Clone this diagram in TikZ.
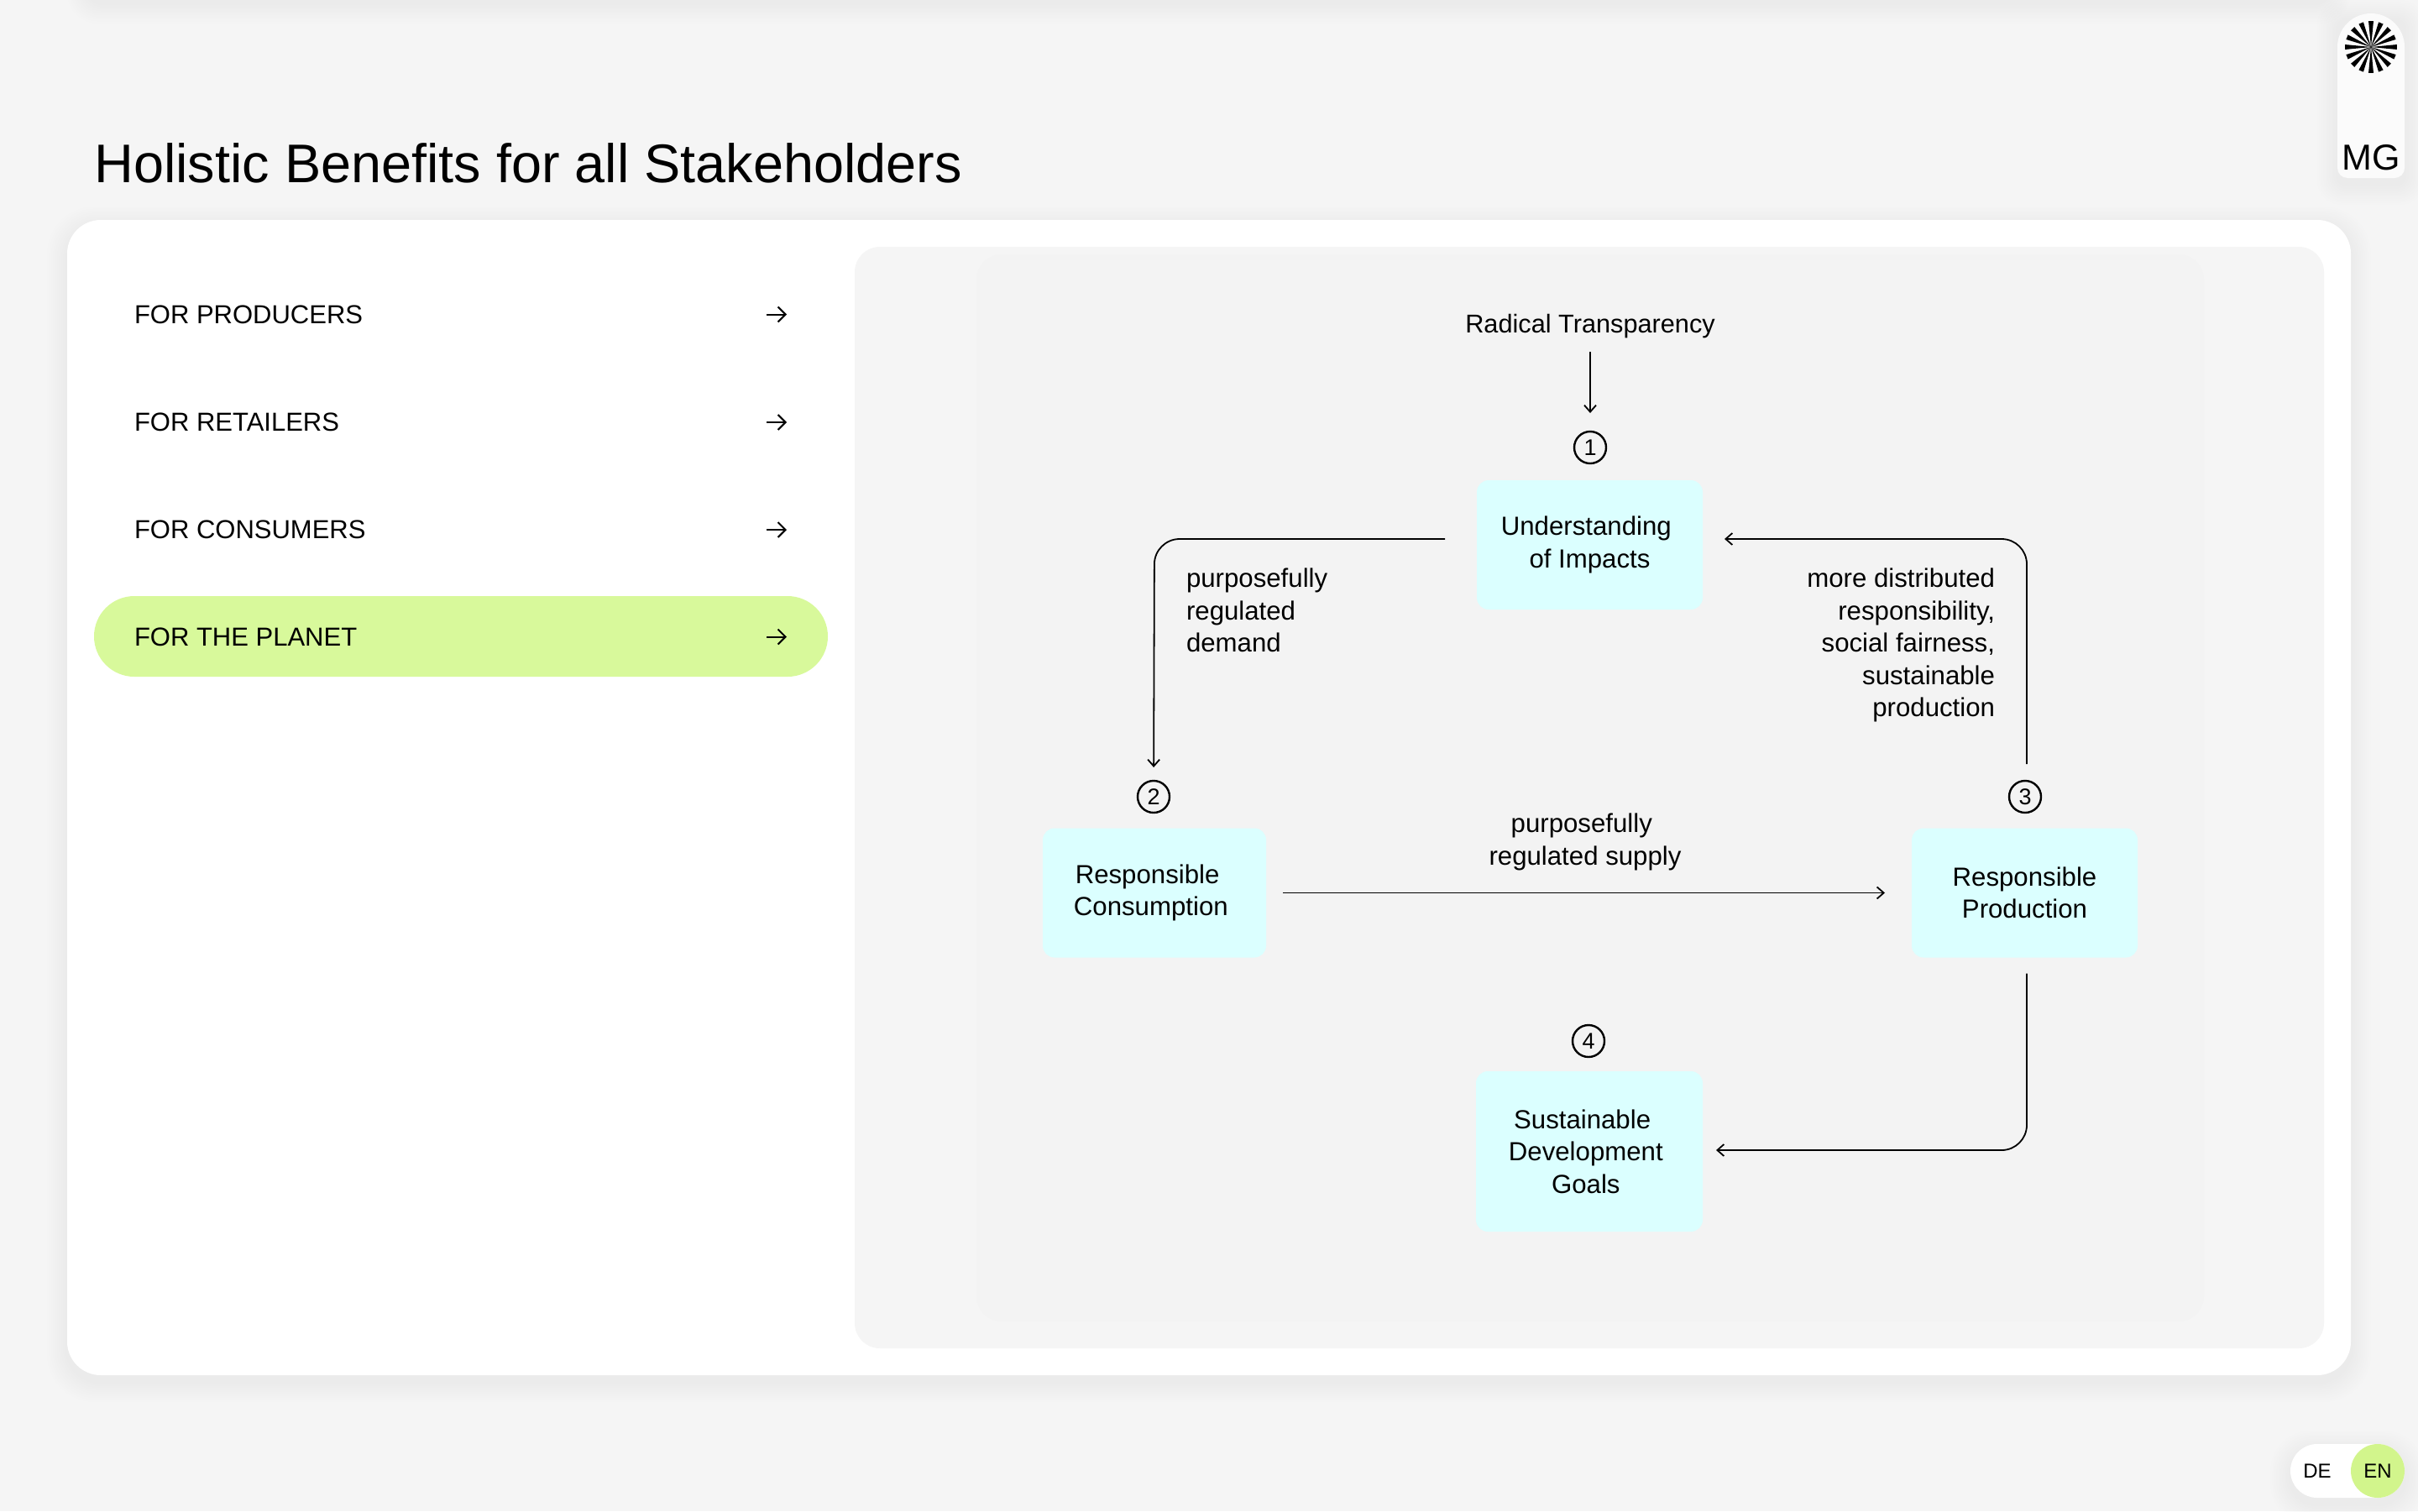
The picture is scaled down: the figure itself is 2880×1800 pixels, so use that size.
\documentclass[tikz,border=0pt]{standalone}
\usepackage{fontspec}
\setmainfont{Liberation Sans}
\usetikzlibrary{calc, arrows.meta}

\definecolor{pagegray}{HTML}{F5F5F5}
\definecolor{paneltwo}{HTML}{F3F3F3}
\definecolor{tabwhite}{HTML}{FBFBFB}
\definecolor{pillgreen}{HTML}{D8F99B}
\definecolor{engreen}{HTML}{D2F58C}
\definecolor{boxcyan}{HTML}{DBFFFF}

\newcommand{\softshadow}[5]{%
    \foreach \k in {1,...,10}{
        \fill[black, opacity=.005, rounded corners=#5pt+\k*.8pt] (#1-\k*2.4,#2-\k*2.4+8) rectangle (#3+\k*2.4,#4+\k*2.4+8);
    }
}
\newcommand{\gapr}{\kern4.2pt}

\tikzset{
    bodytext/.style={font=\fontsize{15.6}{19.25}\selectfont, inner sep=0, outer sep=0},
    stepbox/.style={bodytext, fill=boxcyan, rounded corners=7pt, align=center},
    numcircle/.style={draw, circle, line width=1.2pt, minimum size=19pt, inner sep=0, outer sep=0, font=\fontsize{13.5}{14}\selectfont},
    flow/.style={line width=.9pt, -{Straight Barb[length=4pt, width=7pt, line width=.9pt]}},
    menutip/.style={line width=1pt, -{Straight Barb[length=4.5pt, width=9pt, line width=1pt]}},
}

\begin{document}
\begin{tikzpicture}[x=.5pt, y=-.5pt]
        \useasboundingbox (0,0) rectangle (2880,1800);
        \fill[pagegray] (0,0) rectangle (2880,1800);

        \softshadow{104}{-100}{2776}{-4}{10}
        \softshadow{80}{262}{2800}{1638}{20}
        \softshadow{2784}{16}{2864}{212}{6}
        \softshadow{2728}{1720}{2864}{1784}{16}

        \fill[white, rounded corners=20pt] (80,262) rectangle (2800,1638);
        \fill[pagegray, rounded corners=15pt] (1018,294) rectangle (2768,1606);
        \fill[paneltwo, rounded corners=15pt] (1163,303) rectangle (2625,1574);

        \node[anchor=base west, inner sep=0, font=\fontsize{32.4}{36}\selectfont] (title) at (112,217) {Holistic Benefits for all Stakeholders};

        \fill[pillgreen, rounded corners=24pt] (112,710) rectangle (986,806);
        \foreach \name/\txt/\ypos in {prod/FOR PRODUCERS/374.5, ret/FOR RETAILERS/503, cons/FOR CONSUMERS/631, planet/FOR THE PLANET/758.5} {
            \node[bodytext, anchor=west, font=\fontsize{15.5}{18}\selectfont] (m\name) at (160,\ypos) {\txt};
            \draw[menutip] (913,\ypos) -- (937,\ypos);
        }

        \node[stepbox, minimum width=134.5pt, minimum height=77pt] (understanding) at (1893.5,649) {Understanding\gapr\\of Impacts};
        \node[stepbox, minimum width=133pt, minimum height=77pt] (consumption) at (1375,1063.5) {Responsible\gapr\gapr\\Consumption\gapr};
        \node[stepbox, minimum width=134.5pt, minimum height=77pt] (production) at (2411.5,1063.5) {Responsible\\Production};
        \node[stepbox, minimum width=135pt, minimum height=95.5pt] (goals) at (1893,1371.5) {Sustainable\gapr\gapr\\Development\gapr\\Goals\gapr};

        \node[bodytext, font=\fontsize{15.35}{19.25}\selectfont] (radical) at (1894,389) {Radical Transparency};
        \node[numcircle] (numone) at (1894,533) {1};
        \node[numcircle] (numtwo) at (1374,949) {2};
        \node[numcircle] (numthree) at (2412,949) {3};
        \node[numcircle] (numfour) at (1892,1240) {4};

        \node[bodytext, align=left, anchor=north west] (demand) at (1413,677) {purposefully\\regulated\\demand};
        \node[bodytext, align=right, anchor=north east] (distributed) at (2376,677) {more distributed\\responsibility,\\social fairness,\\sustainable\\production};
        \node[bodytext, align=center] (supply) at (1888,1003) {purposefully\gapr\\regulated supply};

        \coordinate (bendleft) at (1375,642);
        \coordinate (bendright) at (2414,642);
        \coordinate (bendlow) at (2414,1370);

        \draw[flow, shorten <=8pt, shorten >=11pt] (radical) -- (numone);
        \draw[flow, rounded corners=15pt, shorten <=19pt, shorten >=8pt] (understanding.west |- bendleft) -- (bendleft) -- (numtwo);
        \draw[flow, shorten <=10pt, shorten >=16pt] (consumption) -- (production);
        \draw[flow, rounded corners=15pt, shorten <=10pt, shorten >=13pt] (numthree.north -| bendright) -- (bendright) -- (understanding.east |- bendright);
        \draw[flow, rounded corners=15pt, shorten <=9.5pt, shorten >=8pt] (production.south -| bendlow) -- (bendlow) -- (goals.east |- bendlow);

        \fill[tabwhite] (2784,100) [rounded corners=20pt] -- (2784,16) -- (2864,16) [rounded corners=6pt] -- (2864,212) -- (2784,212) -- cycle;
        \coordinate (sun) at (2824,56);
        \foreach \a in {0,22.5,...,337.5} {
            \fill[black, shift={(sun)}] (0,0) -- (\a-5.5:31) -- (\a+5.5:31) -- cycle;
        }
        \node[anchor=base, inner sep=0, font=\fontsize{21.5}{24}\selectfont] (mg) at (2824.5,202) {MG};

        \fill[white, rounded corners=16pt] (2728,1720) rectangle (2864,1784);
        \node[fill=engreen, circle, minimum size=32pt, inner sep=0, font=\fontsize{12}{14}\selectfont] (en) at (2832,1752) {EN};
        \node[inner sep=0, font=\fontsize{12}{14}\selectfont] (de) at (2760,1752) {DE};
    \end{tikzpicture}
\end{document}
